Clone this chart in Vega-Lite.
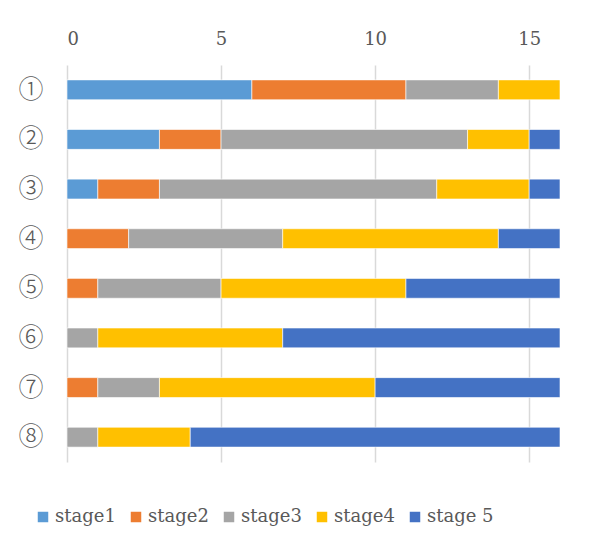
{
  "$schema": "https://vega.github.io/schema/vega-lite/v6.json",
  "width": 493,
  "height": 397,
  "autosize": "none",
  "padding": {"left": 67, "top": 65, "right": 38, "bottom": 85},
  "background": "white",
  "data": {
    "values": [
      {"item": "①", "stage": "stage1", "k": 1, "v": 6},
      {"item": "①", "stage": "stage2", "k": 2, "v": 5},
      {"item": "①", "stage": "stage3", "k": 3, "v": 3},
      {"item": "①", "stage": "stage4", "k": 4, "v": 2},
      {"item": "②", "stage": "stage1", "k": 1, "v": 3},
      {"item": "②", "stage": "stage2", "k": 2, "v": 2},
      {"item": "②", "stage": "stage3", "k": 3, "v": 8},
      {"item": "②", "stage": "stage4", "k": 4, "v": 2},
      {"item": "②", "stage": "stage 5", "k": 5, "v": 1},
      {"item": "③", "stage": "stage1", "k": 1, "v": 1},
      {"item": "③", "stage": "stage2", "k": 2, "v": 2},
      {"item": "③", "stage": "stage3", "k": 3, "v": 9},
      {"item": "③", "stage": "stage4", "k": 4, "v": 3},
      {"item": "③", "stage": "stage 5", "k": 5, "v": 1},
      {"item": "④", "stage": "stage2", "k": 2, "v": 2},
      {"item": "④", "stage": "stage3", "k": 3, "v": 5},
      {"item": "④", "stage": "stage4", "k": 4, "v": 7},
      {"item": "④", "stage": "stage 5", "k": 5, "v": 2},
      {"item": "⑤", "stage": "stage2", "k": 2, "v": 1},
      {"item": "⑤", "stage": "stage3", "k": 3, "v": 4},
      {"item": "⑤", "stage": "stage4", "k": 4, "v": 6},
      {"item": "⑤", "stage": "stage 5", "k": 5, "v": 5},
      {"item": "⑥", "stage": "stage3", "k": 3, "v": 1},
      {"item": "⑥", "stage": "stage4", "k": 4, "v": 6},
      {"item": "⑥", "stage": "stage 5", "k": 5, "v": 9},
      {"item": "⑦", "stage": "stage2", "k": 2, "v": 1},
      {"item": "⑦", "stage": "stage3", "k": 3, "v": 2},
      {"item": "⑦", "stage": "stage4", "k": 4, "v": 7},
      {"item": "⑦", "stage": "stage 5", "k": 5, "v": 6},
      {"item": "⑧", "stage": "stage3", "k": 3, "v": 1},
      {"item": "⑧", "stage": "stage4", "k": 4, "v": 3},
      {"item": "⑧", "stage": "stage 5", "k": 5, "v": 12}
    ]
  },
  "mark": {"type": "bar", "stroke": "white", "strokeWidth": 0.6},
  "encoding": {
    "y": {
      "field": "item",
      "type": "nominal",
      "sort": ["①", "②", "③", "④", "⑤", "⑥", "⑦", "⑧"],
      "scale": {"paddingInner": 0.6, "paddingOuter": 0.3},
      "axis": {
        "title": null,
        "domain": false,
        "ticks": false,
        "labelFont": "Noto Sans CJK JP",
        "labelFontSize": 25,
        "labelFontWeight": 300,
        "labelColor": "#595959",
        "labelPadding": 24
      }
    },
    "x": {
      "field": "v",
      "type": "quantitative",
      "stack": "zero",
      "scale": {"domain": [0, 16], "nice": false},
      "axis": {
        "title": null,
        "orient": "top",
        "values": [0, 5, 10, 15],
        "domain": false,
        "ticks": false,
        "grid": true,
        "gridColor": "#d9d9d9",
        "gridWidth": 1.5,
        "labelFont": "DejaVu Serif",
        "labelFontSize": 18,
        "labelColor": "#595959",
        "labelPadding": 17
      }
    },
    "color": {
      "field": "stage",
      "type": "nominal",
      "sort": ["stage1", "stage2", "stage3", "stage4", "stage 5"],
      "scale": {
        "domain": ["stage1", "stage2", "stage3", "stage4", "stage 5"],
        "range": ["#5B9BD5", "#ED7D31", "#A5A5A5", "#FFC000", "#4472C4"]
      },
      "legend": {
        "title": null,
        "orient": "none",
        "direction": "horizontal",
        "legendX": -33,
        "legendY": 443,
        "symbolType": "square",
        "symbolSize": 110,
        "symbolStrokeWidth": 0,
        "labelFont": "DejaVu Serif",
        "labelFontSize": 18,
        "labelColor": "#595959",
        "labelOffset": 3,
        "columnPadding": 11
      }
    },
    "order": {"field": "k", "type": "quantitative"}
  },
  "config": {"view": {"stroke": null}}
}
